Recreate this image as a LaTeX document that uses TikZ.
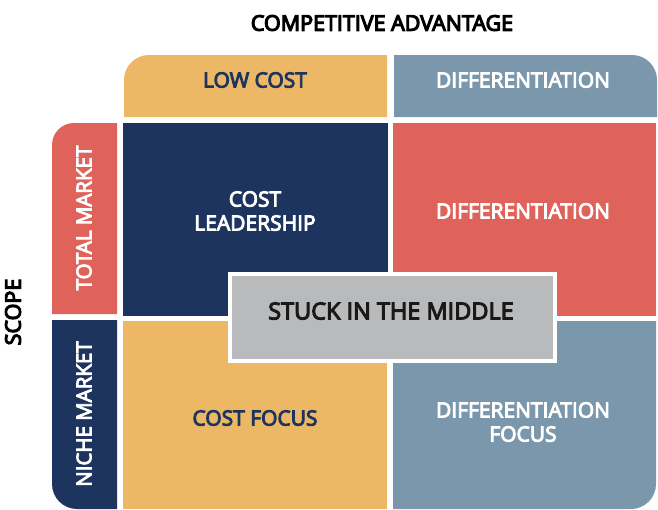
\documentclass[tikz,border=0pt]{standalone}
\usepackage{fontspec}
\setmainfont{Open Sans}
\font\fLab="Open Sans:embolden=4.5" at 21pt\relax
\font\fSide="Open Sans:embolden=4.5" at 20.5pt\relax
\font\fTtl="Open Sans:embolden=5.5" at 21.5pt\relax
\font\fSt="Open Sans:embolden=4.5" at 23.5pt\relax
\definecolor{cyel}{HTML}{ECB866}
\definecolor{cnavy}{HTML}{1D355E}
\definecolor{cred}{HTML}{DF635B}
\definecolor{cblue}{HTML}{7A97AC}
\definecolor{cgray}{HTML}{B9BABC}
\begin{document}
\begin{tikzpicture}[x=1pt,y=1pt,
  lab/.style={font={\fLab\baselineskip=24pt\relax}, align=center, inner sep=0pt},
  ttl/.style={font=\fTtl, inner sep=0pt, text=black}]
\useasboundingbox (0,0) rectangle (658,-509);
% headers
\fill[cyel] (124,-117) [rounded corners=25] -- (124,-55) [sharp corners] -- (387,-55) -- (387,-117) -- cycle;
\fill[cblue] (394,-117) -- (394,-55) [rounded corners=25] -- (657,-55) [sharp corners] -- (657,-117) -- cycle;
% side labels
\fill[cred] (52,-314) [rounded corners=22] -- (52,-123) [sharp corners] -- (117,-123) -- (117,-314) -- cycle;
\fill[cnavy] (52,-320) [rounded corners=25] -- (52,-509) [sharp corners] -- (117,-509) -- (117,-320) -- cycle;
% quadrants
\fill[cnavy] (123,-123) rectangle (388,-316);
\fill[cred] (393,-123) rectangle (656,-316);
\fill[cyel] (123,-321) rectangle (387,-509);
\fill[cblue] (393,-509) [rounded corners=25] -- (656,-509) [sharp corners] -- (656,-321) -- (393,-321) -- cycle;
% stuck in the middle
\fill[white] (228,-272) rectangle (557,-363);
\fill[cgray] (232,-276) rectangle (553,-359);
% texts
\node[ttl] (ca) at (382,-23) {COMPETITIVE ADVANTAGE};
\node[ttl, rotate=90] (sc) at (13,-312) {SCOPE};
\node[lab, text=cnavy] (lc) at (255,-80) {LOW COST};
\node[lab, text=white] (dh) at (523,-80) {DIFFERENTIATION};
\node[lab, text=white, font=\fSide, rotate=90] (tm) at (84,-218) {TOTAL MARKET};
\node[lab, text=white, font=\fSide, rotate=90] (nm) at (84,-414) {NICHE MARKET};
\node[lab, text=white] (cl) at (255,-211) {COST\\LEADERSHIP};
\node[lab, text=white] (df) at (523,-211) {DIFFERENTIATION};
\node[lab, text=cnavy] (cf) at (255,-418) {COST FOCUS};
\node[lab, text=white] (dfc) at (523,-422) {DIFFERENTIATION\\FOCUS};
\node[lab, text=black!90, font=\fSt] (st) at (391,-311) {STUCK IN THE MIDDLE};
\end{tikzpicture}
\end{document}
